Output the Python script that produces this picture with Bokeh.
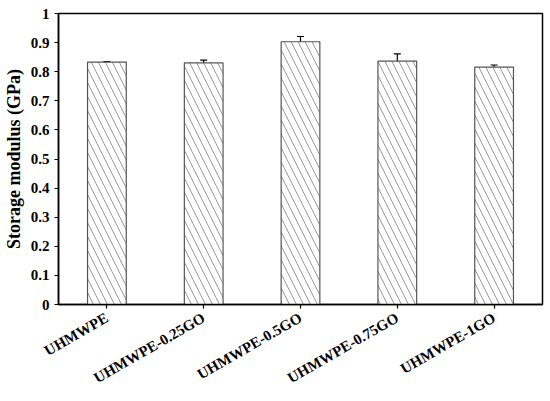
import math
from bokeh.plotting import figure
from bokeh.models import FactorRange, Range1d, Whisker, TeeHead, ColumnDataSource, FixedTicker
from bokeh.embed import file_html
from bokeh.resources import INLINE

categories = ["UHMWPE", "UHMWPE-0.25GO", "UHMWPE-0.5GO", "UHMWPE-0.75GO", "UHMWPE-1GO"]
values = [0.833, 0.830, 0.903, 0.836, 0.816]
errors = [0.002, 0.010, 0.018, 0.025, 0.007]
y_ticks = [0, 0.1, 0.2, 0.3, 0.4, 0.5, 0.6, 0.7, 0.8, 0.9, 1]
y_tick_labels = ["0", "0.1", "0.2", "0.3", "0.4", "0.5", "0.6", "0.7", "0.8", "0.9", "1"]

src = ColumnDataSource(dict(
    x=categories, top=values,
    upper=[v + e for v, e in zip(values, errors)],
    lower=[v - e for v, e in zip(values, errors)],
))

p = figure(x_range=FactorRange(*categories, range_padding=0), y_range=Range1d(0, 1),
           width=550, height=401, output_backend="svg", toolbar_location=None,
           min_border_left=57, min_border_right=8, min_border_top=13, min_border_bottom=97)

p.vbar(x="x", top="top", width=0.4, source=src, fill_color="white",
       line_color="#555555", line_width=1.2,
       hatch_pattern="\\", hatch_color="#808080", hatch_scale=14, hatch_weight=0.8)

w = Whisker(base="x", upper="upper", lower="lower", source=src,
            line_color="black", line_width=1.2,
            upper_head=TeeHead(size=7, line_color="black", line_width=1.2),
            lower_head=TeeHead(size=7, line_color="black", line_width=1.2))
p.add_layout(w)

p.xgrid.visible = False
p.ygrid.visible = False
p.outline_line_color = "black"
p.outline_line_width = 1.5
p.outline_line_alpha = 1

font = "Liberation Serif"
for ax in (p.xaxis[0], p.yaxis[0]):
    ax.axis_line_width = 1.5
    ax.axis_line_color = "black"
    ax.major_tick_line_color = "black"
    ax.major_tick_line_width = 1.2
    ax.major_tick_in = 0
    ax.major_tick_out = 4
    ax.minor_tick_line_color = None
    ax.major_label_text_font = font
    ax.major_label_text_font_style = "bold"
    ax.major_label_text_color = "black"

p.yaxis.major_label_text_font_size = "15px"
p.xaxis.major_label_text_font_size = "15px"
p.yaxis.ticker = FixedTicker(ticks=y_ticks)
p.yaxis.major_label_overrides = {t: l for t, l in zip(y_ticks, y_tick_labels)}
p.yaxis.axis_label = "Storage modulus (GPa)"
p.yaxis.axis_label_text_font = font
p.yaxis.axis_label_text_font_style = "bold"
p.yaxis.axis_label_text_font_size = "18px"
p.yaxis.axis_label_text_color = "black"
p.yaxis.axis_label_standoff = 4
p.yaxis.major_label_standoff = 5

p.xaxis.major_label_orientation = math.pi / 6
p.xaxis.major_label_standoff = 8

open("out.html", "w").write(file_html(p, INLINE))
